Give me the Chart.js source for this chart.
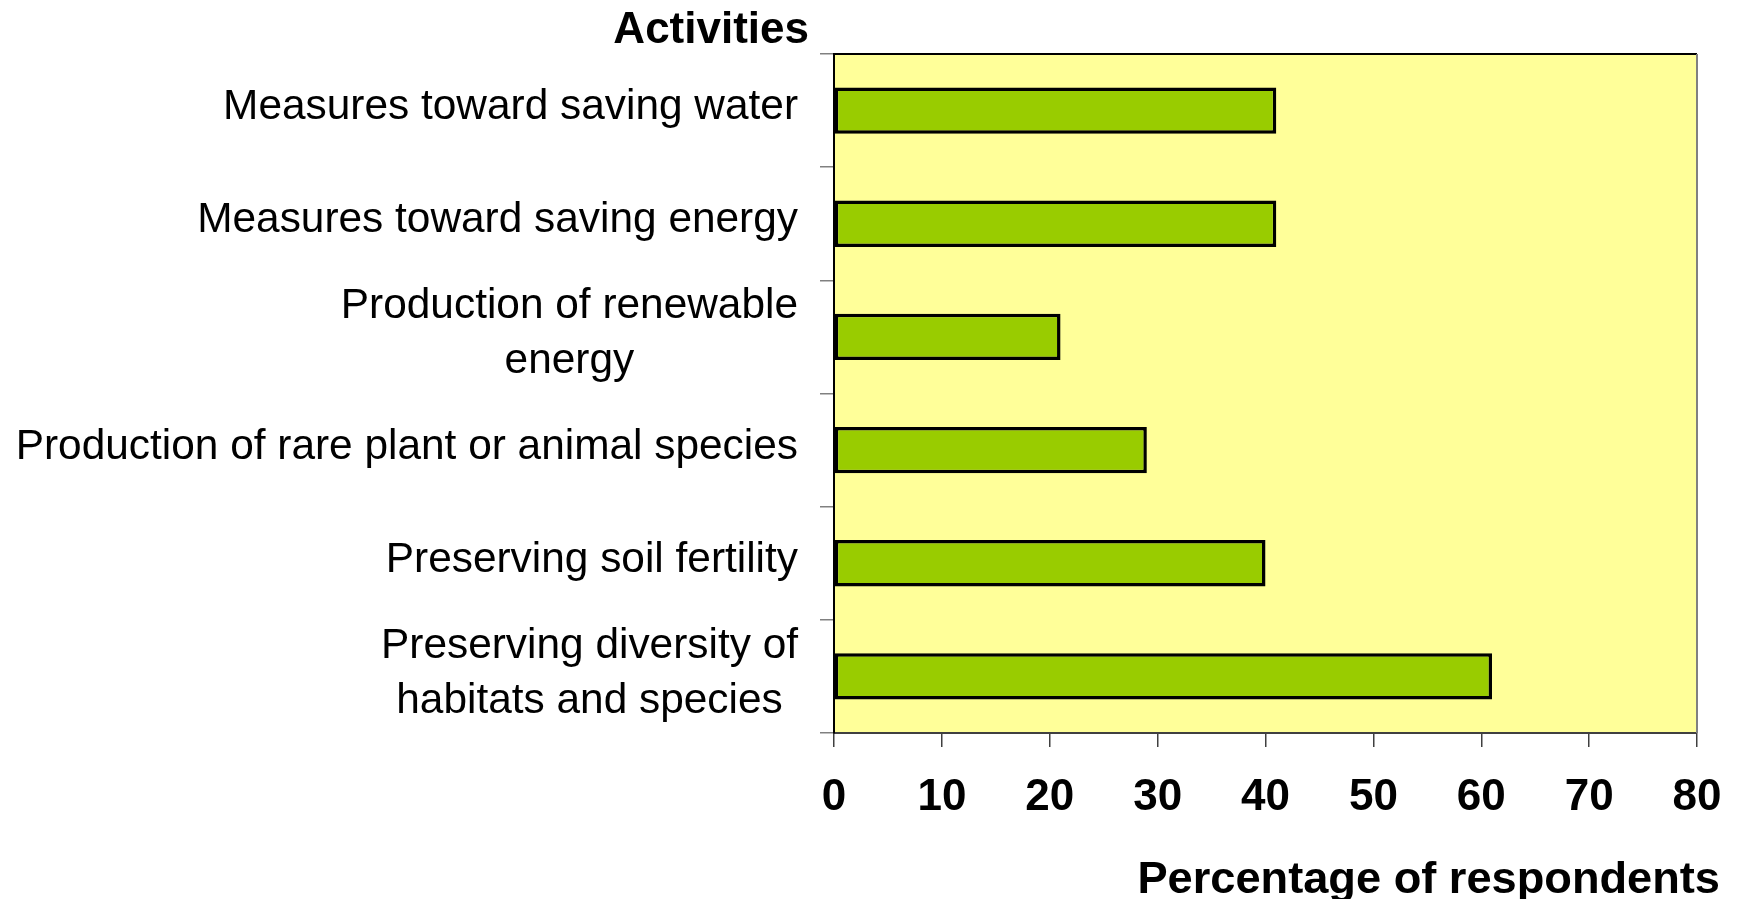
<!DOCTYPE html>
<html><head><meta charset="utf-8">
<script src="https://cdn.jsdelivr.net/npm/chart.js@4/dist/chart.umd.min.js"></script>
<style>html,body{margin:0;padding:0;background:#fff;}</style>
</head><body>
<canvas id="c" width="1737" height="899"></canvas>
<script>
// ---- data ----
const categoryLines = [
  ["Measures toward saving water"],
  ["Measures toward saving energy"],
  ["Production of renewable", "energy"],
  ["Production of rare plant or animal species"],
  ["Preserving soil fertility"],
  ["Preserving diversity of", "habitats and species"]
];
const categories = categoryLines.map(l => l.join(" "));
const values = [41, 41, 21, 29, 40, 61];
const xMin = 0, xMax = 80, xStep = 10;
const xTitle = "Percentage of respondents";
const yTitle = "Activities";

const FONT = "'Liberation Sans', Arial, sans-serif";

const decor = {
  id: 'decor',
  beforeDraw(chart) {
    const {ctx, chartArea: a} = chart;
    ctx.save();
    ctx.fillStyle = '#FFFF99';
    ctx.fillRect(a.left, a.top, a.right - a.left, a.bottom - a.top);
    ctx.restore();
  },
  afterDraw(chart) {
    const {ctx, chartArea: a} = chart;
    const yS = chart.scales.y;
    ctx.save();
    // plot border top (black) and right (gray)
    ctx.lineWidth = 2;
    ctx.strokeStyle = '#000';
    ctx.beginPath(); ctx.moveTo(a.left, a.top); ctx.lineTo(a.right, a.top); ctx.stroke();
    ctx.strokeStyle = '#808080';
    ctx.beginPath(); ctx.moveTo(a.right, a.top); ctx.lineTo(a.right, a.bottom); ctx.stroke();

    // category labels: block right-aligned, lines centered
    ctx.fillStyle = '#000';
    ctx.font = '42.4px ' + FONT;
    ctx.textBaseline = 'middle';
    ctx.textAlign = 'center';
    const rightX = 798, lh = 55;
    categoryLines.forEach((lines, i) => {
      const cy = yS.getPixelForValue(i) - 3;
      const w = Math.max(...lines.map(t => ctx.measureText(t).width));
      const cx = rightX - w / 2;
      lines.forEach((t, j) => {
        ctx.fillText(t, cx, cy + (j - (lines.length - 1) / 2) * lh);
      });
    });

    // axis titles
    ctx.font = 'bold 44px ' + FONT;
    ctx.textAlign = 'right';
    ctx.textBaseline = 'alphabetic';
    ctx.fillText(yTitle, 809, 43);
    ctx.font = 'bold 45.2px ' + FONT;
    ctx.fillText(xTitle, 1720, 893);
    ctx.restore();
  }
};

new Chart(document.getElementById('c'), {
  type: 'bar',
  data: {
    labels: categories,
    datasets: [{
      data: values,
      backgroundColor: '#99CC00',
      borderColor: '#000000',
      borderWidth: 3.5,
      borderSkipped: false,
      categoryPercentage: 1.0,
      barPercentage: 0.41
    }]
  },
  options: {
    indexAxis: 'y',
    responsive: false,
    animation: false,
    devicePixelRatio: 1,
    layout: { padding: { left: 0, top: 54, right: 40, bottom: 0 } },
    plugins: { legend: { display: false }, tooltip: { enabled: false } },
    scales: {
      x: {
        type: 'linear',
        min: xMin, max: xMax,
        ticks: {
          stepSize: xStep,
          color: '#000',
          font: { family: FONT, size: 44, weight: 'bold' },
          padding: 24,
          maxRotation: 0
        },
        grid: { drawOnChartArea: false, drawTicks: true, tickLength: 14, color: '#404040', lineWidth: 1.5 },
        border: { display: true, color: '#404040', width: 2 },
        afterFit(s) { s.height = 166; s.paddingLeft = 0; s.paddingRight = 0; }
      },
      y: {
        type: 'category',
        offset: true,
        ticks: { display: false },
        grid: { drawOnChartArea: false, drawTicks: true, tickLength: 14, color: '#808080', lineWidth: 1.5, offset: true },
        border: { display: true, color: '#000', width: 2 },
        afterFit(s) { s.width = 834; }
      }
    }
  },
  plugins: [decor]
});
</script>
</body></html>
